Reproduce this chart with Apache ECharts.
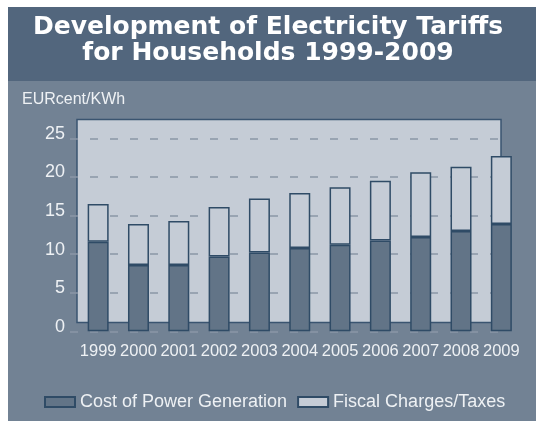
<!DOCTYPE html>
<html>
<head>
<meta charset="utf-8">
<script src="https://cdn.jsdelivr.net/npm/echarts@6/dist/echarts.min.js"></script>
<style>
  html, body { margin: 0; padding: 0; background: #ffffff; }
  #main { width: 536px; height: 421px; }
</style>
</head>
<body>
<div id="main"></div>
<script>
// data
var years = ['1999', '2000', '2001', '2002', '2003', '2004', '2005', '2006', '2007', '2008', '2009'];
var powerCost = [11.6, 8.6, 8.6, 9.7, 10.2, 10.8, 11.2, 11.75, 12.2, 13.0, 13.9];
var fiscalCharges = [4.9, 5.3, 5.7, 6.4, 7.0, 7.1, 7.45, 7.75, 8.4, 8.3, 8.8];
var yTicks = [0, 5, 10, 15, 20, 25];

var chartDom = document.getElementById('main');
var myChart = echarts.init(chartDom);
var option;

var barBorder = '#2f4b66';
var textColor = '#eef1f4';

option = {
  backgroundColor: '#ffffff',
  animation: false,
  textStyle: { fontFamily: 'Liberation Sans, Arial, sans-serif' },
  graphic: [
    // outer panel
    { type: 'rect', z: -10, shape: { x: 8, y: 7, width: 528, height: 414 }, style: { fill: '#728294' } },
    // title banner
    { type: 'rect', z: -9, shape: { x: 8, y: 7, width: 528, height: 74 }, style: { fill: '#52667d' } },
    // back wall
    { type: 'rect', z: -8, shape: { x: 77, y: 119.5, width: 424, height: 203 },
      style: { fill: '#c5ccd6', stroke: '#3a5470', lineWidth: 1.5 } },
    {
      type: 'text', z: 10, left: 'center', top: 14,
      style: {
        text: 'Development of Electricity Tariffs\nfor Households 1999-2009',
        fill: '#ffffff',
        font: 'bold 25px "DejaVu Sans"',
        textAlign: 'center',
        lineHeight: 26
      }
    },
    {
      type: 'text', z: 10, left: 22, top: 92,
      style: { text: 'EURcent/KWh', fill: textColor, font: '16px "Liberation Sans"' }
    }
  ],
  legend: {
    left: 39,
    top: 388,
    icon: 'rect',
    itemWidth: 30,
    itemHeight: 10,
    itemGap: 10,
    textStyle: { color: textColor, fontSize: 18 },
    data: ['Cost of Power Generation', 'Fiscal Charges/Taxes']
  },
  grid: [
    // wall grid: y scale labels and dashed lines
    { left: 70, right: 28, top: 138.3, bottom: 89.7 },
    // bars grid
    { left: 78, right: 14.5, top: 138.3, bottom: 89.7 }
  ],
  xAxis: [
    { gridIndex: 0, type: 'category', data: years, show: false },
    {
      gridIndex: 1, type: 'category', data: years,
      axisLine: { show: false },
      axisTick: { show: false },
      axisLabel: { color: textColor, fontSize: 16.5, margin: 12, interval: 0 }
    }
  ],
  yAxis: [
    {
      gridIndex: 0, type: 'value', min: yTicks[0], max: yTicks[yTicks.length - 1], interval: 5,
      axisLine: { show: false },
      axisTick: { show: false },
      axisLabel: { color: textColor, fontSize: 18, margin: 5, verticalAlign: 'bottom', lineHeight: 9 },
      splitLine: { lineStyle: { color: '#8b97a7', width: 1.5, type: [8, 12] } }
    },
    {
      gridIndex: 1, type: 'value', min: yTicks[0], max: yTicks[yTicks.length - 1], interval: 5,
      show: false, splitLine: { show: false }
    }
  ],
  series: [
    {
      name: 'Cost of Power Generation',
      type: 'bar',
      stack: 'tariff',
      xAxisIndex: 1,
      yAxisIndex: 1,
      barWidth: 21,
      itemStyle: { color: '#627487', borderColor: barBorder, borderWidth: 1.5 },
      data: powerCost
    },
    {
      name: 'Fiscal Charges/Taxes',
      type: 'bar',
      stack: 'tariff',
      xAxisIndex: 1,
      yAxisIndex: 1,
      barWidth: 21,
      itemStyle: { color: '#c5ccd6', borderColor: barBorder, borderWidth: 1.5 },
      data: fiscalCharges
    }
  ]
};

option && myChart.setOption(option);
</script>
</body>
</html>
